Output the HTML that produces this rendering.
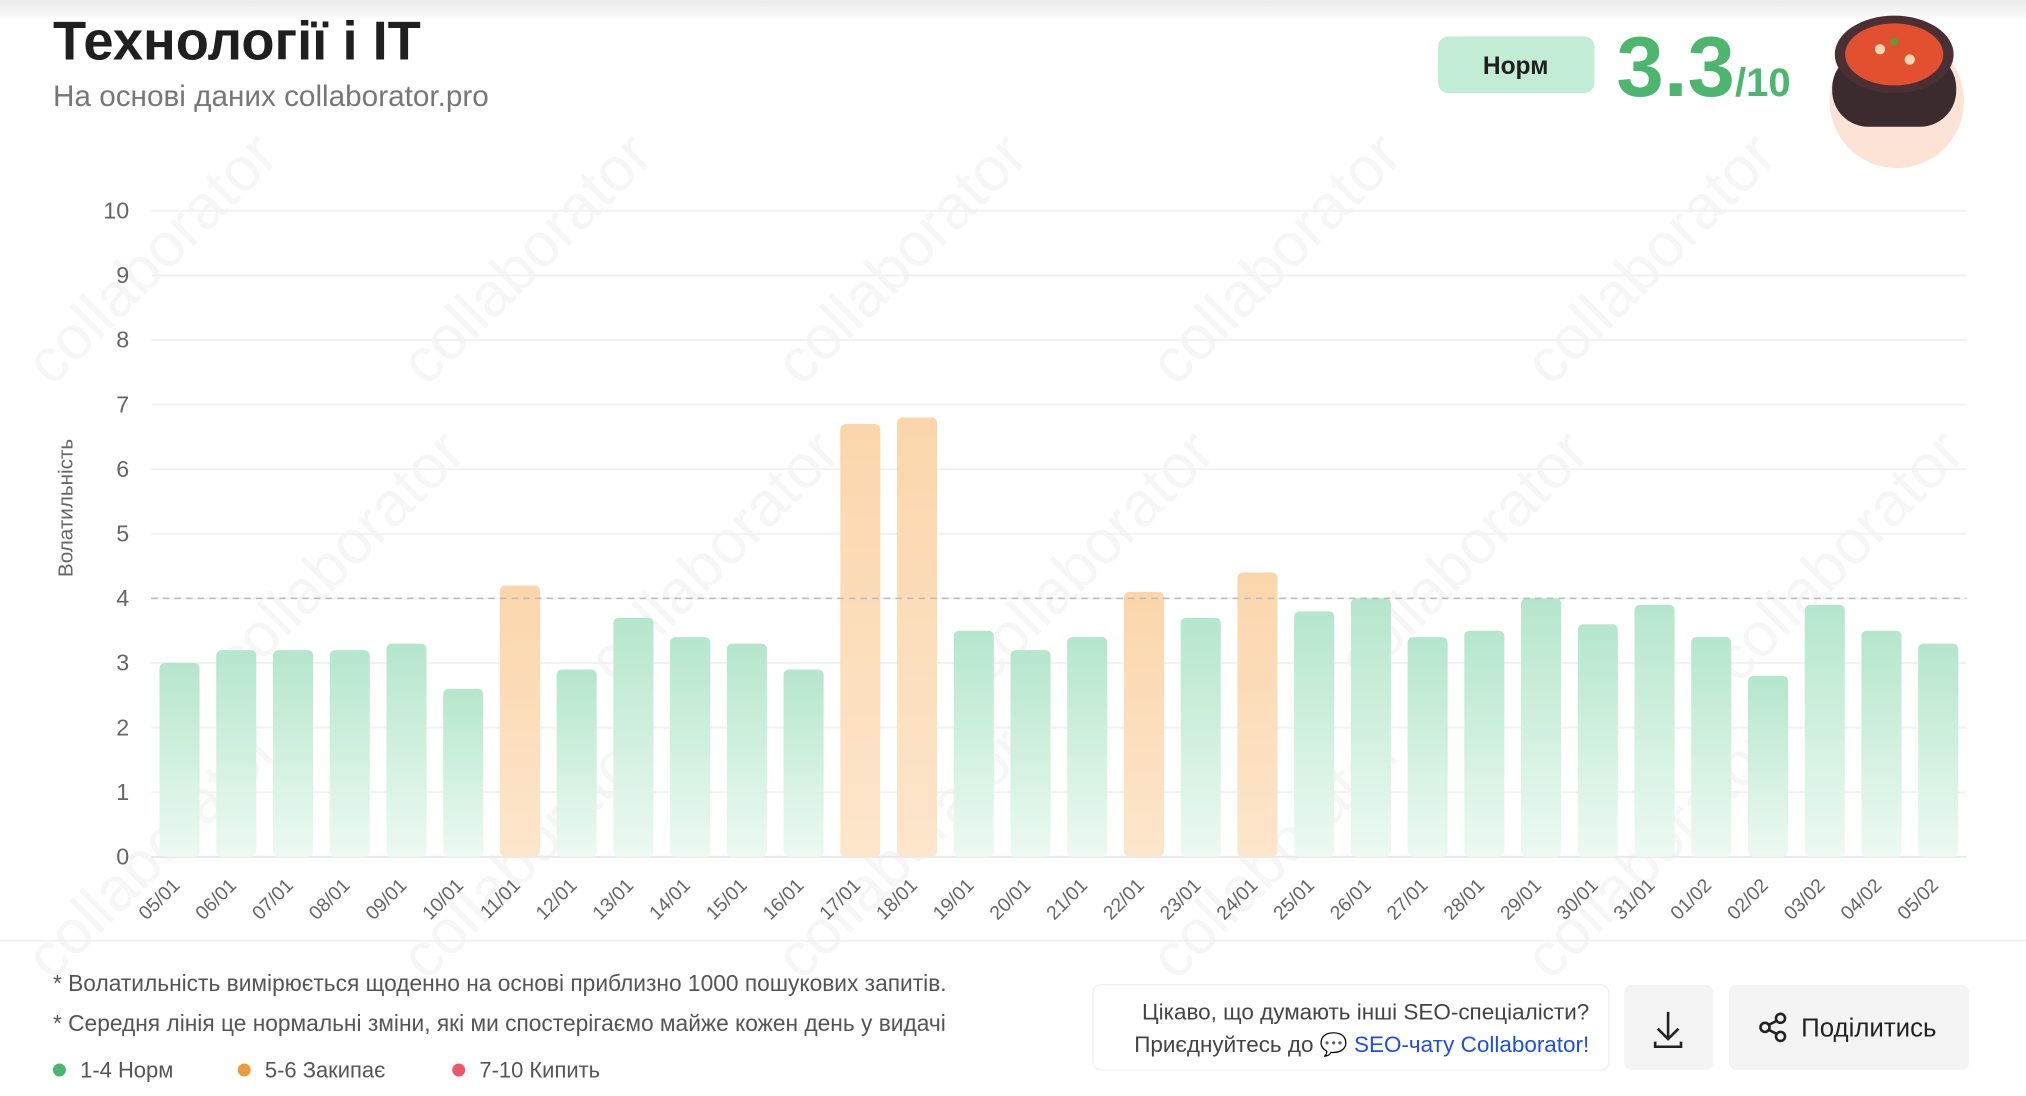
<!DOCTYPE html>
<html><head><meta charset="utf-8"><style>
html,body{margin:0;padding:0;background:#fff;overflow:hidden;width:2026px;height:1096px;}
svg{display:block;overflow:hidden;font-family:"Liberation Sans","DejaVu Sans",sans-serif;}
</style></head><body>
<svg id="chart" width="2026" height="1096" viewBox="0 0 1568 848" xmlns="http://www.w3.org/2000/svg">
<defs>
<linearGradient id="topfade" x1="0" y1="0" x2="0" y2="1"><stop offset="0" stop-color="#e9e9e9"/><stop offset="1" stop-color="#fff"/></linearGradient>
<linearGradient id="gGreen" x1="0" y1="0" x2="0" y2="1"><stop offset="0" stop-color="#b5e6cc"/><stop offset="1" stop-color="#edfaf2"/></linearGradient>
<linearGradient id="gOrange" x1="0" y1="0" x2="0" y2="1"><stop offset="0" stop-color="#fbd6ab"/><stop offset="1" stop-color="#fde6cc"/></linearGradient>
</defs>
<rect x="0" y="0" width="1568" height="16" fill="url(#topfade)"/>
<g id="watermarks" fill="#f6f6f6" font-size="48"></g>
<text x="41" y="46" font-size="42" font-weight="700" fill="#1f1f1f">Технології і IT</text>
<text x="41" y="82" font-size="23" fill="#777">На основі даних collaborator.pro</text>
<g><rect x="1113" y="28" width="121" height="44" rx="8" fill="#c3ecd7"/><text x="1173" y="57" font-size="19" font-weight="700" text-anchor="middle" fill="#1f1f1f">Норм</text></g>
<text x="1251" y="74" font-size="66" font-weight="700" fill="#4cb66e">3.3<tspan font-size="31">/10</tspan></text>
<g>
<circle cx="1468" cy="78" r="52" fill="#fde3d6"/>
<rect x="1418" y="40" width="96" height="58" rx="28" fill="#3b2a2e"/>
<ellipse cx="1466" cy="42" rx="46" ry="30" fill="#4a3034"/>
<ellipse cx="1466" cy="42" rx="38" ry="24" fill="#e2502f"/>
<circle cx="1455" cy="38" r="4" fill="#f7d9b0"/><circle cx="1478" cy="46" r="4" fill="#f7d9b0"/><circle cx="1466" cy="32" r="3" fill="#5b9b3a"/>
</g>
<g id="grid"></g>
<text transform="translate(56,393) rotate(-90)" font-size="16" fill="#666" text-anchor="middle">Волатильність</text>
<g id="bars"></g>
<g id="xlabels"></g>
<line x1="0" y1="728" x2="1568" y2="728" stroke="#eee" stroke-width="1"/>
<text x="41" y="767" font-size="17.6" fill="#555">* Волатильність вимірюється щоденно на основі приблизно 1000 пошукових запитів.</text>
<text x="41" y="798" font-size="17.6" fill="#555">* Середня лінія це нормальні зміни, які ми спостерігаємо майже кожен день у видачі</text>
<g><circle cx="46" cy="828" r="5" fill="#4cb66e"/><text x="62" y="834" font-size="17" fill="#555">1-4 Норм</text></g>
<g><circle cx="189" cy="828" r="5" fill="#ed9a3c"/><text x="205" y="834" font-size="17" fill="#555">5-6 Закипає</text></g>
<g><circle cx="355" cy="828" r="5" fill="#f0556b"/><text x="371" y="834" font-size="17" fill="#555">7-10 Кипить</text></g>
<g><rect x="846" y="762" width="399" height="66" rx="6" fill="#fff" stroke="#f0f0f0"/>
<text x="1230" y="789" font-size="17.4" fill="#444" text-anchor="end">Цікаво, що думають інші SEO-спеціалісти?</text>
<text x="1230" y="814" font-size="17.4" fill="#444" text-anchor="end">Приєднуйтесь до 💬 <tspan fill="#1d4fe0">SEO-чату Collaborator!</tspan></text></g>
<g><rect x="1257" y="762" width="69" height="66" rx="6" fill="#f4f4f4"/>
<path d="M1291 783v20M1283 796l8 8 8-8M1281 806v4h20v-4" stroke="#222" stroke-width="2" fill="none"/></g>
<g><rect x="1338" y="762" width="186" height="66" rx="6" fill="#f4f4f4"/>
<circle cx="1378" cy="788" r="3.5" fill="none" stroke="#222" stroke-width="2"/><circle cx="1366" cy="795" r="3.5" fill="none" stroke="#222" stroke-width="2"/><circle cx="1378" cy="802" r="3.5" fill="none" stroke="#222" stroke-width="2"/>
<path d="M1369 793l6-3M1369 797l6 3" stroke="#222" stroke-width="2"/>
<text x="1394" y="802" font-size="20" fill="#222">Поділитись</text></g>
</svg>
<script>
const categories = ["05/01","06/01","07/01","08/01","09/01","10/01","11/01","12/01","13/01","14/01","15/01","16/01","17/01","18/01","19/01","20/01","21/01","22/01","23/01","24/01","25/01","26/01","27/01","28/01","29/01","30/01","31/01","01/02","02/02","03/02","04/02","05/02"];
const values = [3.0,3.2,3.2,3.2,3.3,2.6,4.2,2.9,3.7,3.4,3.3,2.9,6.7,6.8,3.5,3.2,3.4,4.1,3.7,4.4,3.8,4.0,3.4,3.5,4.0,3.6,3.9,3.4,2.8,3.9,3.5,3.3];
const yTicks = [0,1,2,3,4,5,6,7,8,9,10];
const normLine = [4];
const NS="http://www.w3.org/2000/svg";
const x0=117,x1=1522,yTop=163,yBot=663;
const n=categories.length, step=(x1-x0)/n, bw=31;
function y(v){return yBot-(v/10)*(yBot-yTop);}
function xc(i){return x0+step*(i+0.5);}
const wm=document.getElementById('watermarks');
for(let r=0;r<3;r++){for(let c=0;c<5;c++){
 const t=document.createElementNS(NS,'text');
 
 
 const wx=c*290+40+(r%2)*145, wy=r*230+300;
 t.setAttribute('transform','translate('+wx+','+wy+') rotate(-45)');
 t.textContent='collaborator';wm.appendChild(t);
}}
const grid=document.getElementById('grid');
yTicks.forEach(t=>{
 const l=document.createElementNS(NS,'line');
 
 
 l.setAttribute('x1',x0);l.setAttribute('x2',x1);l.setAttribute('y1',y(t));l.setAttribute('y2',y(t));
 l.setAttribute('stroke',t===0?'#e8e8e8':'#f2f2f2');l.setAttribute('stroke-width','1.5');
 grid.appendChild(l);
 const tx=document.createElementNS(NS,'text');
 
 
 tx.setAttribute('x',100);tx.setAttribute('y',y(t)+6);tx.setAttribute('text-anchor','end');
 tx.setAttribute('font-size','18');tx.setAttribute('fill','#666');tx.textContent=t;
 grid.appendChild(tx);
});
const bars=document.getElementById('bars');
values.forEach((v,i)=>{
 const r=document.createElementNS(NS,'rect');
 
 
 r.setAttribute('x',xc(i)-bw/2);r.setAttribute('width',bw);
 r.setAttribute('y',y(v));r.setAttribute('height',yBot-y(v));r.setAttribute('rx',4);
 r.setAttribute('fill',v>4.05?'url(#gOrange)':'url(#gGreen)');
 bars.appendChild(r);
});
normLine.forEach(v=>{
 const l=document.createElementNS(NS,'line');
 
 
 l.setAttribute('x1',x0);l.setAttribute('x2',x1);l.setAttribute('y1',y(v));l.setAttribute('y2',y(v));
 l.setAttribute('stroke','#bbb');l.setAttribute('stroke-dasharray','5,4');l.setAttribute('stroke-width','1.2');
 bars.appendChild(l);
});
const xl=document.getElementById('xlabels');
categories.forEach((c,i)=>{
 const t=document.createElementNS(NS,'text');
 
 
 const cx=xc(i)+1, cy=686;
 t.setAttribute('transform','translate('+cx+','+cy+') rotate(-45)');
 t.setAttribute('text-anchor','end');t.setAttribute('font-size','15');t.setAttribute('fill','#666');
 t.textContent=c;xl.appendChild(t);
});
</script>
</body></html>
